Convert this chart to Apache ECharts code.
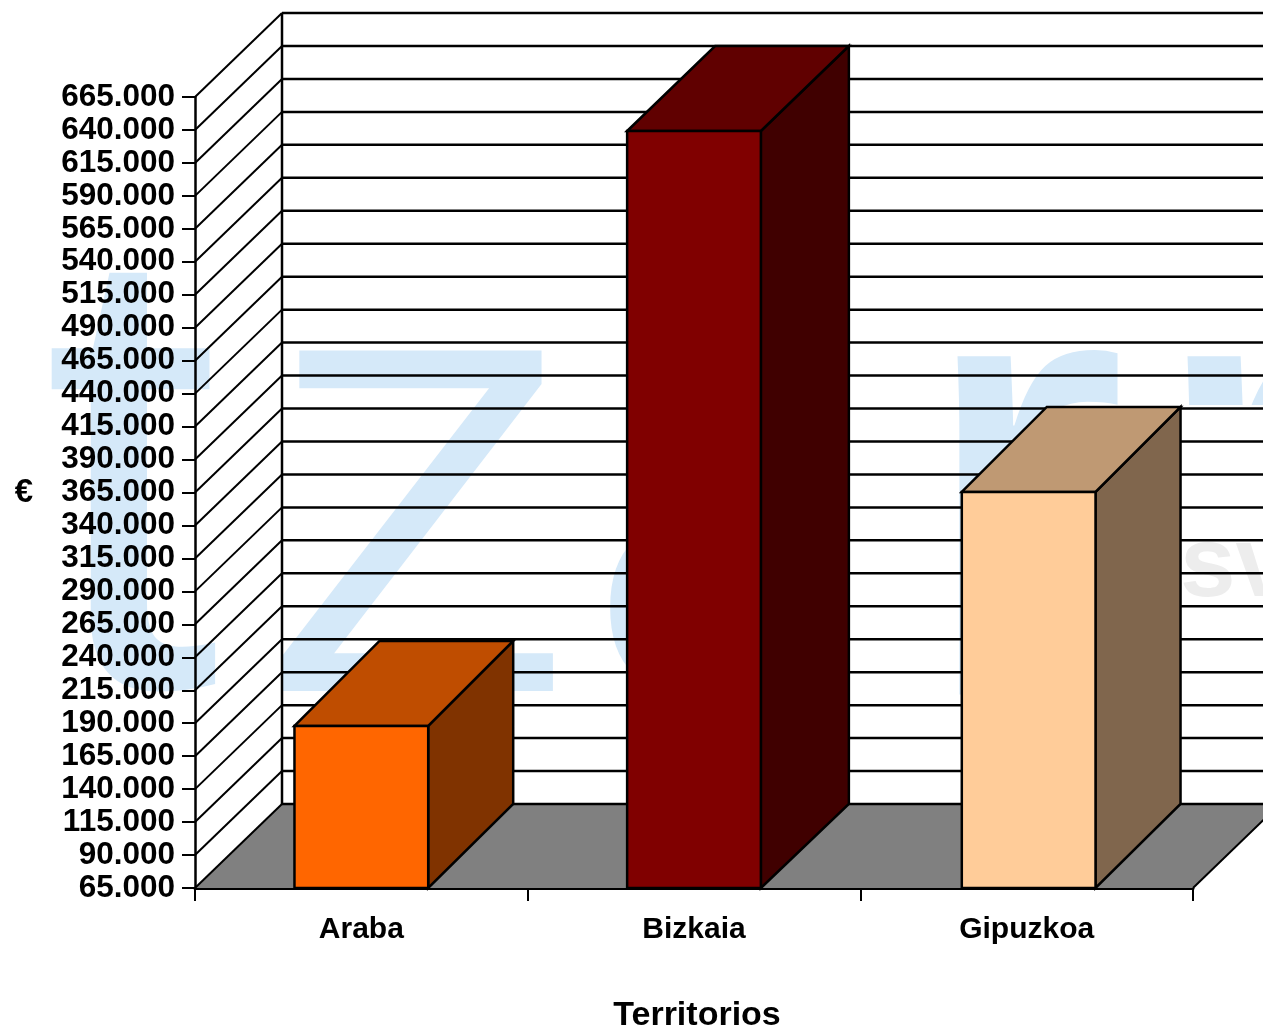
<!DOCTYPE html>
<html>
<head>
<meta charset="utf-8">
<style>html,body{margin:0;padding:0;background:#fff}#c{width:1263px;height:1028px}</style>
<script src="https://cdn.jsdelivr.net/npm/echarts@6/dist/echarts.min.js"></script>
</head>
<body>
<div id="c"></div>
<script>
const categories = ['Araba', 'Bizkaia', 'Gipuzkoa'];
const values = [187900, 639200, 365400];
const yTicks = [65000, 90000, 115000, 140000, 165000, 190000, 215000, 240000, 265000, 290000,
  315000, 340000, 365000, 390000, 415000, 440000, 465000, 490000, 515000, 540000, 565000,
  590000, 615000, 640000, 665000];
const frontColors = ['#FF6600', '#800000', '#FFCC99'];
const topColors = ['#BF4D00', '#600000', '#BF9973'];
const sideColors = ['#803300', '#400000', '#80664D'];
const yName = '€';
const xName = 'Territorios';

const FONT = '"Liberation Sans", Arial, sans-serif';
const WALL_DX = 87, WALL_DY = 84, BAR_DX = 85, BAR_DY = 85, LINE = 2.5, OBLIQUE = 2;
const WATER = '#D5E9F9';
const fmt = v => String(v).replace(/\B(?=(\d{3})+$)/g, '.');
const lineStyle = {stroke: '#000', lineWidth: LINE, fill: null};
const obliqueStyle = {stroke: '#000', lineWidth: OBLIQUE, fill: null};

function wm(text, x, y, size, opts) {
  opts = opts || {};
  return {type: 'text', z: opts.z || -10, silent: true, x, y, scaleX: opts.scaleX || 1,
    style: {text, fill: opts.fill || WATER, font: (opts.weight || 'normal') + ' ' + size + 'px ' + FONT, verticalAlign: 'bottom'}};
}

const chart = echarts.init(document.getElementById('c'), null, {renderer: 'canvas'});
chart.setOption({
  animation: false,
  backgroundColor: '#fff',
  graphic: [
    wm('t', 42, 830, 640),
    wm('Z', 266, 802, 495),
    wm('d', 590, 763, 320, {scaleX: 1.5}),
    wm('r', 915, 838, 640),
    wm('r', 1145, 838, 640),
    {type: 'rect', z: -9, silent: true, shape: {x: 1185, y: 405, width: 90, height: 320}, style: {fill: '#fff'}},
    wm('sv', 1180, 618, 100, {fill: '#EDEDED', weight: 'bold', z: -8})
  ],
  grid: {left: 195, right: 70, top: 97, bottom: 140, outerBoundsMode: 'none'},
  xAxis: {
    type: 'category', data: categories,
    axisLine: {show: true, onZero: false, lineStyle: {color: '#000', width: 3}},
    axisTick: {show: true, length: 13, alignWithLabel: false, lineStyle: {color: '#000', width: 2}},
    axisLabel: {color: '#000', fontFamily: FONT, fontWeight: 'bold', fontSize: 30, margin: 27, interval: 0},
    name: xName, nameLocation: 'middle', nameGap: 111,
    nameTextStyle: {color: '#000', fontFamily: FONT, fontWeight: 'bold', fontSize: 34, padding: [0, 0, 0, 6]},
    splitLine: {show: false}
  },
  yAxis: {
    type: 'value', min: 65000, max: 665000,
    axisLine: {show: true, onZero: false, lineStyle: {color: '#000', width: 2.5}},
    axisTick: {show: true, length: 13, customValues: yTicks, lineStyle: {color: '#000', width: 2}},
    axisLabel: {color: '#000', fontFamily: FONT, fontWeight: 'bold', fontSize: 31.5, margin: 20,
      customValues: yTicks, formatter: fmt},
    name: yName, nameLocation: 'middle', nameGap: 162, nameRotate: 0,
    nameTextStyle: {color: '#000', fontFamily: FONT, fontWeight: 'bold', fontSize: 33, padding: [0, 0, 10, 0]},
    splitLine: {show: false}
  },
  series: [
    {
      name: 'floor', type: 'custom', clip: false, silent: true, z: 1,
      data: [[0, yTicks[0]]], encode: {x: 0, y: 1},
      renderItem(params, api) {
        const cs = params.coordSys;
        const y = api.coord([0, yTicks[0]])[1];
        const top = api.coord([0, yTicks[yTicks.length - 1]])[1];
        const l = cs.x, r = cs.x + cs.width;
        return {type: 'group', children: [
          {type: 'polygon', shape: {points: [[l, y], [r, y], [r + WALL_DX, y - WALL_DY], [l + WALL_DX, y - WALL_DY]]},
            style: {fill: '#808080', stroke: null}},
          {type: 'line', shape: {x1: r, y1: y, x2: r + WALL_DX, y2: y - WALL_DY}, style: obliqueStyle},
          {type: 'line', shape: {x1: l + WALL_DX, y1: y - WALL_DY, x2: l + WALL_DX, y2: top - WALL_DY}, style: lineStyle}
        ]};
      }
    },
    {
      name: 'walls', type: 'custom', clip: false, silent: true, z: 2,
      data: yTicks.map(v => [0, v]), encode: {x: 0, y: 1},
      renderItem(params, api) {
        const cs = params.coordSys;
        const y = api.coord([0, api.value(1)])[1];
        const l = cs.x, r = cs.x + cs.width;
        return {type: 'group', children: [
          {type: 'line', shape: {x1: l, y1: y, x2: l + WALL_DX, y2: y - WALL_DY}, style: obliqueStyle},
          {type: 'line', shape: {x1: l + WALL_DX, y1: y - WALL_DY, x2: r + WALL_DX, y2: y - WALL_DY}, style: lineStyle}
        ]};
      }
    },
    {
      name: 'bars', type: 'custom', clip: false, z: 3,
      data: values.map((v, i) => [i, v]), encode: {x: 0, y: 1},
      renderItem(params, api) {
        const i = api.value(0);
        const p = api.coord([i, api.value(1)]);
        const b = api.coord([i, yTicks[0]]);
        const w = api.size([1, 0])[0] * 0.402;
        const x0 = p[0] - w / 2 + (i === 2 ? 2 : 0), x1 = x0 + w;
        const dx = BAR_DX + (i === 1 ? 3 : 0);
        const yT = p[1], yB = b[1];
        const st = c => ({fill: c, stroke: '#000', lineWidth: LINE, lineJoin: 'miter'});
        return {type: 'group', children: [
          {type: 'polygon', shape: {points: [[x1, yT], [x1 + dx, yT - BAR_DY], [x1 + dx, yB - WALL_DY], [x1, yB]]}, style: st(sideColors[i])},
          {type: 'polygon', shape: {points: [[x0, yT], [x0 + dx, yT - BAR_DY], [x1 + dx, yT - BAR_DY], [x1, yT]]}, style: st(topColors[i])},
          {type: 'rect', shape: {x: x0, y: yT, width: w, height: yB - yT}, style: st(frontColors[i])}
        ]};
      }
    }
  ]
});
</script>
</body>
</html>
